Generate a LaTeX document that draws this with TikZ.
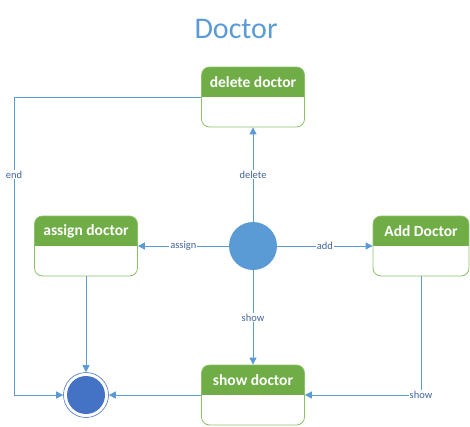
\documentclass[tikz,border=0pt]{standalone}
\usepackage{fontspec}
\setmainfont{Carlito}
\usetikzlibrary{arrows.meta}
\definecolor{hdrgreen}{HTML}{70AD47}
\definecolor{boxgreen}{HTML}{8CC168}
\definecolor{flowblue}{HTML}{5B9BD5}
\definecolor{endblue}{HTML}{4472C4}
\definecolor{lblblue}{HTML}{44649C}
\begin{document}
\begin{tikzpicture}[x=1pt,y=-1pt,
  state/.style={draw=boxgreen, line width=0.8pt, rounded corners=8pt, minimum width=103pt, minimum height=60pt, inner sep=0pt,
    path picture={\fill[hdrgreen, sharp corners] (path picture bounding box.north west) rectangle (path picture bounding box.east);
      \node[white, font=\fontsize{15.5}{18}\selectfont\bfseries] at ([yshift=-15pt]path picture bounding box.north) {#1};}},
  flow/.style={draw=flowblue, line width=0.9pt, -{Triangle[length=7pt,width=7pt]}},
  lbl/.style={fill=white, text=lblblue, inner sep=1pt, font=\fontsize{10.5}{12}\selectfont}]

\useasboundingbox (0,0) rectangle (470,426);
\node[text=flowblue, font=\fontsize{30}{36}\selectfont] (title) at (236,29) {Doctor};
\node[circle, fill=flowblue, minimum size=48pt, inner sep=0pt] (start) at (253,246) {};
\node[state=delete doctor] (del) at (253,97) {};
\node[state=assign doctor] (asg) at (86,246) {};
\node[state=Add Doctor, minimum width=96pt] (add) at (421,246) {};
\node[state=show doctor] (shw) at (253,395) {};
\node[circle, draw=endblue, line width=0.6pt, minimum size=45pt, inner sep=0pt] (end) at (86,395) {};
\node[circle, fill=endblue, minimum size=38pt, inner sep=0pt] (endin) at (end) {};
\coordinate (bend) at (14,395);

\draw[flow] (start) -- node[lbl] {delete} (del);
\draw[flow] (start) -- node[lbl] {assign} (asg);
\draw[flow] (start) -- node[lbl] {add} (add);
\draw[flow] (start) -- node[lbl] {show} (shw);
\draw[flow] (del.west) -| node[lbl, pos=0.63] {end} (bend) -- (end);
\draw[flow] (asg) -- (end);
\draw[flow] (shw) -- (end);
\draw[flow] (add) |- node[lbl] {show} (shw);

\end{tikzpicture}
\end{document}
